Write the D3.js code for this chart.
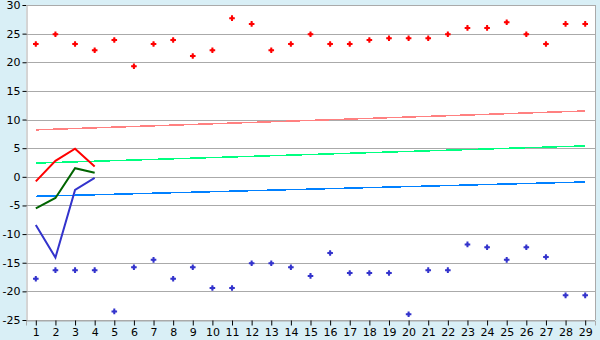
<!DOCTYPE html>
<html><head><meta charset="utf-8">
<script src="https://cdn.jsdelivr.net/npm/d3@7"></script>
<style>html,body{margin:0;padding:0;background:#D9EFF6;}svg{display:block;}</style>
</head><body>
<svg id="c" width="600" height="340"></svg>
<script>
const categories = d3.range(1, 30).map(String);
const redPoints = [23.2,24.9,23.2,22.1,23.9,19.3,23.2,23.9,21.1,22.1,27.7,26.7,22.1,23.2,24.9,23.2,23.2,23.9,24.2,24.2,24.2,24.9,26.0,26.0,27.0,24.9,23.2,26.7,26.7];
const bluePoints = [-17.8,-16.3,-16.3,-16.3,-23.5,-15.8,-14.5,-17.8,-15.8,-19.4,-19.4,-15.1,-15.1,-15.8,-17.3,-13.3,-16.8,-16.8,-16.8,-24.0,-16.3,-16.3,-11.8,-12.3,-14.5,-12.3,-14.0,-20.7,-20.7];
const lineRed = [-0.8, 2.8, 4.9, 1.8];
const lineGreen = [-5.5, -3.7, 1.5, 0.7];
const lineBlue = [-8.4, -14.1, -2.3, -0.2];
const trendPink = [8.2, 11.5];
const trendGreen = [2.4, 5.4];
const trendBlue = [-3.4, -0.9];
const yTicks = [30,25,20,15,10,5,0,-5,-10,-15,-20,-25];

const svg = d3.select("#c");
const L = 26, R = 595, T = 5, B = 320;
const x = d3.scalePoint().domain(categories).range([L, R]).padding(0.5);
const y = d3.scaleLinear().domain([-25, 30]).range([B, T]);

svg.append("rect").attr("x", L).attr("y", T).attr("width", R - L).attr("height", B - T).attr("fill", "#fff");

// gridlines
svg.append("g").selectAll("line").data(yTicks).join("line")
  .attr("x1", L).attr("x2", R).attr("y1", d => Math.round(y(d)) + 0.5).attr("y2", d => Math.round(y(d)) + 0.5)
  .attr("stroke", "#AAAAAA").attr("stroke-width", 1);

const font = "DejaVu Sans, Verdana, sans-serif";
// y axis
const ya = svg.append("g").attr("transform", `translate(${L + 0.5},0)`)
  .call(d3.axisLeft(y).tickValues(yTicks).tickSize(4).tickPadding(2).tickFormat(d => String(d)));
ya.select(".domain").attr("stroke", "#AAAAAA");
ya.selectAll(".tick line").attr("stroke", "#000");
ya.selectAll("text").attr("font-family", font).attr("font-size", 11).attr("fill", "#000");
// x axis
const xa = svg.append("g").attr("transform", `translate(0,${B + 0.5})`)
  .call(d3.axisBottom(x).tickSize(5).tickPadding(3));
xa.select(".domain").attr("stroke", "#AAAAAA");
xa.selectAll(".tick line").attr("stroke", "#000");
xa.selectAll("text").attr("font-family", font).attr("font-size", 11).attr("fill", "#000");
// right and top border
svg.append("line").attr("x1", R + 0.5).attr("x2", R + 0.5).attr("y1", T).attr("y2", B).attr("stroke", "#AAAAAA");
svg.append("line").attr("x1", L).attr("x2", R).attr("y1", T + 0.5).attr("y2", T + 0.5).attr("stroke", "#AAAAAA");

// trend lines
const first = categories[0], last = categories[categories.length - 1];
[[trendPink, "#FF8080"], [trendGreen, "#00FF80"], [trendBlue, "#0080FF"]].forEach(([t, c]) => {
  svg.append("line").attr("x1", x(first)).attr("x2", x(last)).attr("y1", y(t[0])).attr("y2", y(t[1]))
    .attr("stroke", c).attr("stroke-width", 1.5).attr("shape-rendering", "crispEdges");
});

// lines
const lg = d3.line().x((d, i) => x(categories[i])).y(d => y(d));
[[lineRed, "#FF0000"], [lineGreen, "#006400"], [lineBlue, "#3333CC"]].forEach(([v, c]) => {
  svg.append("path").attr("d", lg(v)).attr("fill", "none").attr("stroke", c).attr("stroke-width", 2);
});

// points
const marker = "M-1,-2.8L1,-2.8L1,-1.2L1.5,-1.5L1.2,-1L2.8,-1L2.8,1L1.2,1L1.5,1.5L1,1.2L1,2.8L-1,2.8L-1,1.2L-1.5,1.5L-1.2,1L-2.8,1L-2.8,-1L-1.2,-1L-1.5,-1.5L-1,-1.2Z";
[[redPoints, "#FF0000"], [bluePoints, "#3333CC"]].forEach(([v, c]) => {
  svg.append("g").selectAll("path").data(v).join("path")
    .attr("d", marker).attr("fill", c)
    .attr("transform", (d, i) => `translate(${x(categories[i])},${y(d)})`);
});
</script>
</body></html>
